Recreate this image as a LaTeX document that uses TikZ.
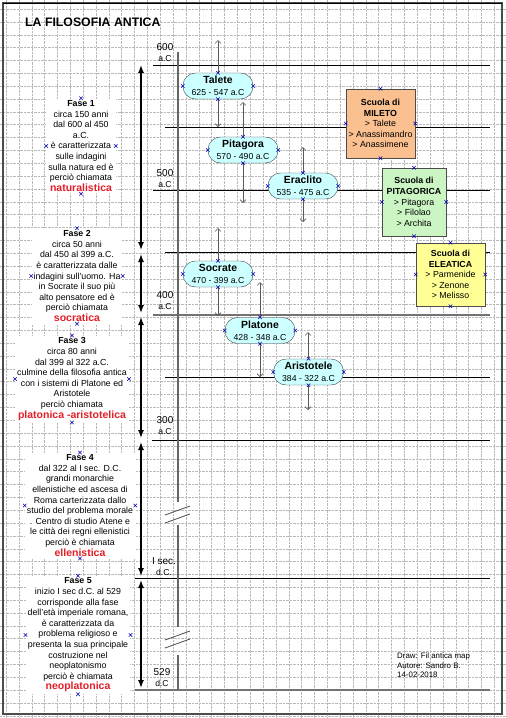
\documentclass[tikz,border=0pt]{standalone}
\usepackage{fontspec}
\setmainfont{Liberation Sans}
\usetikzlibrary{arrows.meta, shapes.misc, positioning}
\definecolor{philocyan}{RGB}{204,255,255}
\definecolor{miletoorange}{RGB}{250,192,143}
\definecolor{pitagreen}{RGB}{204,245,196}
\definecolor{eleayellow}{RGB}{255,255,150}
\definecolor{fasered}{RGB}{228,30,40}
\newcommand{\fasename}[1]{{\fontsize{10.5}{12.5}\selectfont\bfseries\color{fasered}#1}}

\begin{document}
\begin{tikzpicture}[x=1pt, y=-1pt,
    gridline/.style={gray!55, densely dotted, line width=0.4pt},
    era/.style={black, line width=0.8pt},
    eramain/.style={black!55, line width=1.5pt},
    axisline/.style={black!60, line width=1.3pt},
    phasearrow/.style={{Latex[length=8pt,width=6pt]}-{Latex[length=8pt,width=6pt]}, line width=1.4pt},
    lifearrow/.style={{Straight Barb[length=3pt,width=6pt]}-{Straight Barb[length=3pt,width=6pt]}, black!65, line width=0.7pt},
    phase/.style={fill=white, align=center, inner xsep=2pt, inner ysep=2pt, font=\fontsize{8.8}{10.6}\selectfont},
    philo/.style={rectangle, rounded corners=12.5pt, draw=black!75, fill=philocyan, minimum width=70pt,
                  minimum height=26pt, inner sep=0pt, align=center, font=\fontsize{8.7}{12}\selectfont},
    school/.style={rectangle, draw=black!70, align=center, inner sep=0pt, font=\fontsize{8.8}{10.6}\selectfont},
    yearlbl/.style={align=center, inner sep=0pt, font=\fontsize{10}{12.5}\selectfont},
    cp/.style={cross out, draw=blue!70!black, minimum size=3pt, inner sep=0pt, line width=0.5pt}
]
\useasboundingbox (0,0) rectangle (506,718);
% grid
\foreach \i in {0,...,39} \draw[gridline] (6+12.85*\i,0) -- (6+12.85*\i,718);
\foreach \j in {0,...,55} \draw[gridline] (0,9+12.85*\j) -- (506,9+12.85*\j);
% frame
\draw[black!70, line width=1.4pt] (3,3) rectangle (502,714);
\draw[black, line width=1pt] (3,3) -- (502,3);

\node[anchor=west, inner sep=0pt, font=\fontsize{12.3}{14}\selectfont\bfseries] (title) at (25,22) {LA FILOSOFIA ANTICA};

% century lines
\draw[era] (153,65) -- (490,65);
\draw[era] (165,127) -- (490,127);
\draw[era] (153,190) -- (490,190);
\draw[era] (165,252) -- (490,252);
\draw[eramain] (153,315) -- (490,315);
\draw[era] (165,377) -- (490,377);
\draw[era] (152,440) -- (490,440);
\draw[era] (135,578) -- (490,578);
\draw[eramain] (135,690) -- (490,690);

% time axis with breaks
\draw[axisline] (178,52) -- (178,502);
\draw[axisline] (178,525) -- (178,627);
\draw[axisline] (178,655) -- (178,690);
\draw[black!70, line width=0.8pt] (165,515) -- (190,506) (165,523) -- (190,514);
\draw[black!70, line width=0.8pt] (165,640) -- (190,631) (165,648) -- (190,639);

% year labels
\node[yearlbl] (y600) at (165,53) {600\\[-1.5pt]{\fontsize{8.6}{10}\selectfont a.C}};
\node[yearlbl] (y500) at (165,179) {500\\[-1.5pt]{\fontsize{8.6}{10}\selectfont a.C}};
\node[yearlbl] (y400) at (165,301) {400\\[-1.5pt]{\fontsize{8.6}{10}\selectfont a.C}};
\node[yearlbl] (y300) at (165,426) {300\\[-1.5pt]{\fontsize{8.6}{10}\selectfont a.C}};
\node[yearlbl] (y1dc) at (164,567) {I sec.\\[-1.5pt]{\fontsize{8.6}{10}\selectfont d.C.}};
\node[yearlbl] (y529) at (162,678) {529\\[-1.5pt]{\fontsize{8.6}{10}\selectfont d.C}};

% phase arrows
\coordinate (f1a) at (141,65);  \coordinate (f1b) at (141,250);
\coordinate (f2a) at (141,254); \coordinate (f2b) at (141,313);
\coordinate (f3a) at (141,317); \coordinate (f3b) at (141,438);
\coordinate (f4a) at (141,442); \coordinate (f4b) at (141,576);
\coordinate (f5a) at (141,580); \coordinate (f5b) at (141,688);
\foreach \k in {1,...,5} \draw[phasearrow] (f\k a) -- (f\k b);

% life spans
\coordinate (taleteA) at (218,40);     \coordinate (taleteB) at (218,127);
\coordinate (pitagoraA) at (243,102);  \coordinate (pitagoraB) at (243,203);
\coordinate (eraclitoA) at (303,147);  \coordinate (eraclitoB) at (303,222);
\coordinate (socrateA) at (218,228);   \coordinate (socrateB) at (218,316);
\coordinate (platoneA) at (260,282);   \coordinate (platoneB) at (260,377);
\coordinate (aristoteleA) at (308,332); \coordinate (aristoteleB) at (308,410);
\foreach \p in {talete,pitagora,eraclito,socrate,platone,aristotele}
    \draw[lifearrow] (\p A) -- (\p B);

% philosophers
\node[philo] (talete) at (218,86) {{\fontsize{10.4}{12}\selectfont\bfseries Talete}\\625 - 547 a.C};
\node[philo] (pitagora) at (243,150) {{\fontsize{10.4}{12}\selectfont\bfseries Pitagora}\\570 - 490 a.C};
\node[philo] (eraclito) at (303,186) {{\fontsize{10.4}{12}\selectfont\bfseries Eraclito}\\535 - 475 a.C};
\node[philo] (socrate) at (218,274) {{\fontsize{10.4}{12}\selectfont\bfseries Socrate}\\470 - 399 a.C};
\node[philo] (platone) at (260,330.5) {{\fontsize{10.4}{12}\selectfont\bfseries Platone}\\428 - 348 a.C};
\node[philo] (aristotele) at (308.5,372) {{\fontsize{10.4}{12}\selectfont\bfseries Aristotele}\\384 - 322 a.C};

% schools
\node[school, fill=miletoorange, minimum width=69pt, minimum height=69pt] (mileto) at (380.5,123.5)
    {\textbf{Scuola di}\\\textbf{MILETO}\\> Talete\\> Anassimandro\\> Anassimene};
\node[school, fill=pitagreen, minimum width=64pt, minimum height=68pt] (pitagorica) at (414,202)
    {\textbf{Scuola di}\\\textbf{PITAGORICA}\\> Pitagora\\> Filolao\\> Archita};
\node[school, fill=eleayellow, minimum width=69pt, minimum height=63pt] (eleatica) at (450.5,274.5)
    {\textbf{Scuola di}\\\textbf{ELEATICA}\\> Parmenide\\> Zenone\\> Melisso};

% phases
\node[phase] (phase1) at (81,146) {\textbf{Fase 1}\\circa 150 anni\\dal 600 al 450\\a.C.\\è caratterizzata\\sulle indagini\\sulla natura ed è\\perciò chiamata\\\fasename{naturalistica}};
\node[phase] (phase2) at (77,276) {\textbf{Fase 2}\\circa 50 anni\\dal 450 al 399 a.C.\\è caratterizzata dalle\\indagini sull’uomo. Ha\\in Socrate il suo più\\alto pensatore ed è\\perciò chiamata\\\fasename{socratica}};
\node[phase] (phase3) at (72,379) {\textbf{Fase 3}\\circa 80 anni\\dal 399 al 322 a.C.\\culmine della filosofia antica\\con i sistemi di Platone ed\\Aristotele\\perciò chiamata\\\fasename{platonica -aristotelica}};
\node[phase] (phase4) at (80,505.5) {\textbf{Fase 4}\\dal 322 al I sec. D.C.\\grandi monarchie\\ellenistiche ed ascesa di\\Roma carterizzata dallo\\studio del problema morale\\. Centro di studio Atene e\\le città dei regni ellenistici\\perciò è chiamata\\\fasename{ellenistica}};
\node[phase] (phase5) at (78,635) {\textbf{Fase 5}\\inizio I sec d.C. al 529\\corrisponde alla fase\\dell’età imperiale romana,\\è caratterizzata da\\problema religioso e\\presenta la sua principale\\costruzione nel\\neoplatonismo\\perciò è chiamata\\\fasename{neoplatonica}};

% connection points
\foreach \n in {talete,pitagora,eraclito,socrate,platone,aristotele,mileto,pitagorica,eleatica,phase1,phase2,phase3,phase4,phase5}
    \foreach \a in {north,south,east,west} \node[cp] at (\n.\a) {};

\node[anchor=north west, align=left, inner sep=0pt, font=\fontsize{7.9}{9.5}\selectfont] (footer) at (397,653)
    {Draw: Fil antica map\\Autore: Sandro B.\\14-02-2018};
\end{tikzpicture}
\end{document}
